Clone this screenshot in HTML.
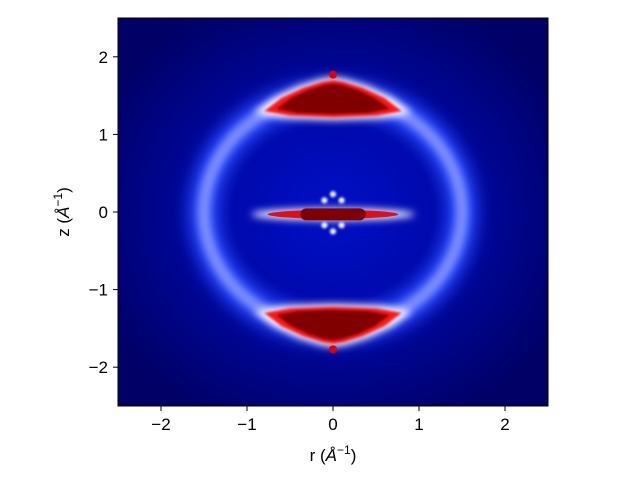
<!DOCTYPE html>
<html><head><meta charset="utf-8"><style>
html,body{margin:0;padding:0;background:#fff;width:640px;height:480px;overflow:hidden}
text{font-family:"Liberation Sans","DejaVu Sans",sans-serif;font-size:17px;fill:#000}
</style></head><body>
<svg id="chart" width="640" height="480" xmlns="http://www.w3.org/2000/svg">
<defs>
<radialGradient id="bg" cx="0.5" cy="0.5" r="0.6">
<stop offset="0" stop-color="#0010c8"/><stop offset="0.45" stop-color="#0008a8"/><stop offset="1" stop-color="#000066"/>
</radialGradient>
<filter id="b8" x="-50%" y="-50%" width="200%" height="200%"><feGaussianBlur stdDeviation="8"/></filter>
<filter id="b4" x="-50%" y="-200%" width="200%" height="500%"><feGaussianBlur stdDeviation="4"/></filter>
<filter id="b1" x="-50%" y="-100%" width="200%" height="300%"><feGaussianBlur stdDeviation="1.2"/></filter>
<clipPath id="clip"><rect x="118" y="18" width="430" height="388"/></clipPath>
</defs>
<g id="plot" clip-path="url(#clip)"></g>
<rect x="118" y="18" width="430" height="388" fill="none" stroke="#000" stroke-width="1"/>
<g id="axes"></g>
<text x="333" y="461" text-anchor="middle">r (<tspan font-style="italic">Å</tspan><tspan font-size="12" dy="-7">−1</tspan><tspan dy="7">)</tspan></text>
<text transform="translate(69,212) rotate(-90)" text-anchor="middle">z (<tspan font-style="italic">Å</tspan><tspan font-size="12" dy="-7">−1</tspan><tspan dy="7">)</tspan></text>
</svg>
<script>
const xTicks=[-2,-1,0,1,2];
const yTicks=[-2,-1,0,1,2];
const xTickLabels=["−2","−1","0","1","2"];
const yTickLabels=["−2","−1","0","1","2"];
const ringRadius=[1.5,1.5];
const capSign=[1,-1];
const capR=[-0.8,-0.6,-0.35,-0.12,0,0.12,0.35,0.6,0.8,0.5,0,-0.5];
const capZ=[1.3,1.47,1.6,1.68,1.7,1.68,1.6,1.47,1.3,1.24,1.22,1.24];
const streakHalfWidth=[0.95];
const NS="http://www.w3.org/2000/svg";
const X=v=>333+v*86, Y=v=>212-v*77.6;
function mk(t,a,p){const e=document.createElementNS(NS,t);for(const k in a)e.setAttribute(k,a[k]);p.appendChild(e);return e;}
const plot=document.getElementById('plot'),axes=document.getElementById('axes');
let e=mk('rect',{x:118,y:18,width:430,height:388,fill:'url(#bg)'},plot);


const rx=X(ringRadius[0])-X(0), ry=Y(0)-Y(ringRadius[1]);
e=mk('ellipse',{cx:X(0),cy:Y(0),rx:rx,ry:ry,fill:'none',stroke:'#2848ff',"stroke-width":30,filter:'url(#b8)'},plot);


e=mk('ellipse',{cx:X(0),cy:Y(0),rx:rx,ry:ry,fill:'none',stroke:'#8090ff',"stroke-width":12,filter:'url(#b4)'},plot);


capSign.forEach(s=>{
 const cz=1.45;
 const P=k=>capR.map((r,i)=>X(r*k)+','+Y(s*(cz+(capZ[i]-cz)*k))).join(' ');
 let g=mk('polygon',{points:P(1.15),fill:'#ffffff',filter:'url(#b4)'},plot);
 
 
 g=mk('polygon',{points:P(1.0),fill:'#ff1818',filter:'url(#b1)'},plot);
 
 
 g=mk('polygon',{points:P(0.82),fill:'#800000',filter:'url(#b1)'},plot);
 
 
 g=mk('circle',{cx:X(0),cy:Y(s*1.77),r:4,fill:'#e00000'},plot);
 
 
});
const sw=streakHalfWidth[0];
e=mk('ellipse',{cx:X(0),cy:Y(-0.03),rx:X(sw)-X(0),ry:6,fill:'#ffffff',filter:'url(#b4)'},plot);


e=mk('ellipse',{cx:X(0),cy:Y(-0.03),rx:X(sw*0.8)-X(0),ry:4.5,fill:'#e01010'},plot);


e=mk('rect',{x:X(-0.38),y:Y(-0.03)-6,width:X(0.38)-X(-0.38),height:12,rx:6,fill:'#800000'},plot);


[[-0.1,0.15],[0.1,0.15],[-0.1,-0.17],[0.1,-0.17],[0,0.23],[0,-0.25]].forEach(p=>{
 const d=mk('circle',{cx:X(p[0]),cy:Y(p[1]),r:3,fill:'#ffffff',filter:'url(#b1)'},plot);
 
 
});
xTicks.forEach((v,i)=>{
 let t=mk('line',{x1:X(v),x2:X(v),y1:406,y2:411,stroke:'#000'},axes);
 
 
 t=mk('text',{x:X(v),y:430,"text-anchor":"middle"},axes);t.textContent=xTickLabels[i];
 
 
});
yTicks.forEach((v,i)=>{
 let t=mk('line',{x1:113,x2:118,y1:Y(v),y2:Y(v),stroke:'#000'},axes);
 
 
 t=mk('text',{x:108,y:Y(v)+6,"text-anchor":"end"},axes);t.textContent=yTickLabels[i];
 
 
});
</script>
</body></html>
